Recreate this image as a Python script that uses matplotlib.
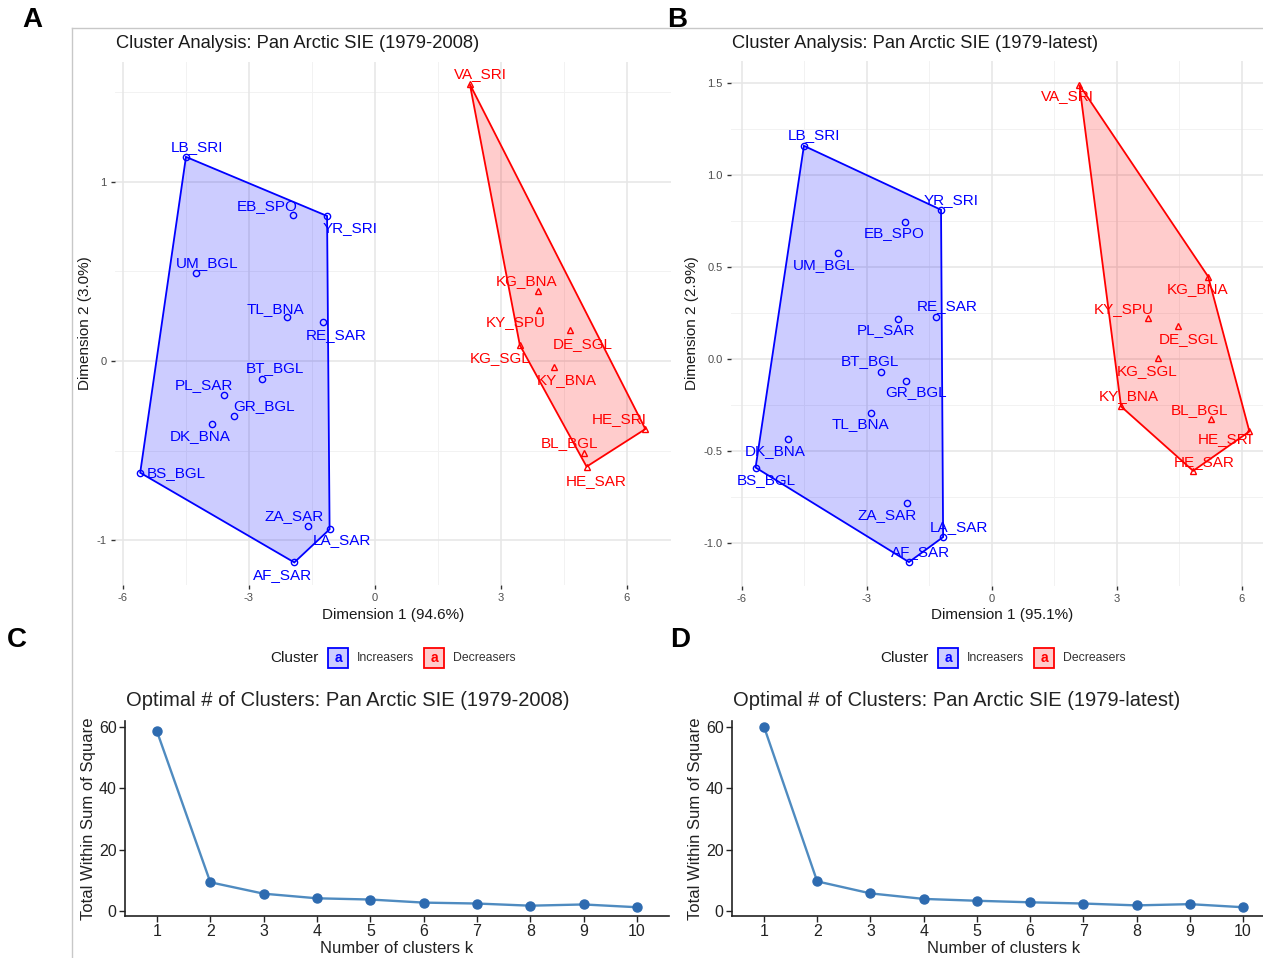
import numpy as np
import matplotlib
matplotlib.use("Agg")
import matplotlib.pyplot as plt
from matplotlib.patches import Polygon, Rectangle
from matplotlib.lines import Line2D

plt.rcParams['font.family'] = ['Liberation Sans', 'DejaVu Sans']

# ---------------- data ----------------
# Panel A (1979-2008)
a_inc_names = ["LB_SRI", "EB_SPO", "YR_SRI", "UM_BGL", "TL_BNA", "RE_SAR", "BT_BGL",
               "PL_SAR", "GR_BGL", "DK_BNA", "BS_BGL", "ZA_SAR", "LA_SAR", "AF_SAR"]
a_inc_x = [-4.50, -1.95, -1.14, -4.26, -2.09, -1.23, -2.69, -3.59, -3.35, -3.88, -5.59, -1.59, -1.08, -1.92]
a_inc_y = [1.14, 0.815, 0.81, 0.49, 0.244, 0.216, -0.10, -0.19, -0.305, -0.352, -0.624, -0.92, -0.94, -1.125]
a_dec_names = ["VA_SRI", "KG_BNA", "KY_SPU", "DE_SGL", "KG_SGL", "KY_BNA", "HE_SRI", "BL_BGL", "HE_SAR"]
a_dec_x = [2.26, 3.89, 3.91, 4.64, 3.45, 4.27, 6.44, 4.98, 5.04]
a_dec_y = [1.546, 0.393, 0.285, 0.173, 0.089, -0.032, -0.38, -0.512, -0.59]

# Panel B (1979-latest)
b_inc_names = ["LB_SRI", "YR_SRI", "EB_SPO", "UM_BGL", "RE_SAR", "PL_SAR", "BT_BGL",
               "GR_BGL", "TL_BNA", "DK_BNA", "BS_BGL", "ZA_SAR", "LA_SAR", "AF_SAR"]
b_inc_x = [-4.51, -1.22, -2.09, -3.70, -1.33, -2.26, -2.66, -2.07, -2.89, -4.90, -5.67, -2.04, -1.17, -1.99]
b_inc_y = [1.158, 0.81, 0.746, 0.574, 0.225, 0.219, -0.069, -0.118, -0.292, -0.437, -0.591, -0.786, -0.969, -1.105]
b_dec_names = ["VA_SRI", "KG_BNA", "KY_SPU", "DE_SGL", "KG_SGL", "KY_BNA", "BL_BGL", "HE_SRI", "HE_SAR"]
b_dec_x = [2.10, 5.19, 3.74, 4.46, 3.99, 3.10, 5.26, 6.18, 4.83]
b_dec_y = [1.489, 0.447, 0.221, 0.176, 0.007, -0.259, -0.326, -0.395, -0.609]

# Elbow plots
k_values = [1, 2, 3, 4, 5, 6, 7, 8, 9, 10]
wss_c = [58.4, 9.4, 5.7, 4.2, 3.8, 2.8, 2.5, 1.8, 2.2, 1.3]
wss_d = [60.0, 9.7, 5.8, 4.0, 3.4, 2.9, 2.5, 1.9, 2.3, 1.3]

# label offsets (pixels; +y up) -- layout only
a_inc_off = [(11, 10), (-26, 9), (23, -12), (11, 10), (-12, 8), (13, -13), (13, 11),
             (-20, 10), (30, 10), (-12, -12), (36, 0), (-14, 10), (12, -11), (-12, -13)]
a_dec_off = [(11, 10), (-12, 10), (-23, -12), (13, -14), (-20, -13), (12, -13), (-26, 10), (-15, 10), (10, -14)]
b_inc_off = [(10, 11), (10, 10), (-11, -11), (-13, -12), (11, 11), (-12, -11), (-11, 10),
             (10, -11), (-11, -11), (-12, -12), (11, -12), (-20, -12), (16, 10), (12, 10)]
b_dec_off = [(-12, -11), (-11, -12), (-24, 9), (11, -13), (-11, -13), (8, 10), (-12, 9), (-24, -8), (11, 9)]

W, H = 1263, 958
fig = plt.figure(figsize=(W / 100, H / 100), dpi=100)

BLUE = "#0000FF"
RED = "#FF0000"
BLUE_FILL = (0, 0, 1, 0.2)
RED_FILL = (1, 0, 0, 0.2)


def ax_px(left, top, right, bottom):
    return fig.add_axes([left / W, 1 - bottom / H, (right - left) / W, (bottom - top) / H])


def hull(xs, ys):
    pts = sorted(set(zip(xs, ys)))

    def cross(o, a, b):
        return (a[0] - o[0]) * (b[1] - o[1]) - (a[1] - o[1]) * (b[0] - o[0])
    lower, upper = [], []
    for p in pts:
        while len(lower) >= 2 and cross(lower[-2], lower[-1], p) <= 0:
            lower.pop()
        lower.append(p)
    for p in reversed(pts):
        while len(upper) >= 2 and cross(upper[-2], upper[-1], p) <= 0:
            upper.pop()
        upper.append(p)
    return lower[:-1] + upper[:-1]


def cluster_panel(ax, groups, xlim, ylim, xticks, yticks, yticklabels, xminor, yminor):
    ax.set_xlim(*xlim)
    ax.set_ylim(*ylim)
    for s in ax.spines.values():
        s.set_visible(False)
    for v in xminor:
        ax.axvline(v, color="#F2F2F2", lw=0.7, zorder=0)
    for v in yminor:
        ax.axhline(v, color="#F2F2F2", lw=0.7, zorder=0)
    for v in xticks:
        ax.axvline(v, color="#E6E6E6", lw=1.1, zorder=0)
    for v in yticks:
        ax.axhline(v, color="#E6E6E6", lw=1.1, zorder=0)
    ax.set_xticks(xticks)
    ax.set_xticklabels([str(t) for t in xticks])
    ax.set_yticks(yticks)
    ax.set_yticklabels(yticklabels)
    ax.tick_params(axis="both", length=3, width=1, color="#333333", labelsize=8,
                   labelcolor="#4D4D4D", pad=3)
    for names, xs, ys, offs, col, fill, mk in groups:
        hp = hull(xs, ys)
        ax.add_patch(Polygon(hp, closed=True, facecolor=fill, edgecolor=col, lw=1.3, zorder=2))
        ax.plot(xs, ys, linestyle="none", marker=mk, markersize=4.5 if mk == "o" else 5,
                markerfacecolor="none", markeredgecolor=col, markeredgewidth=1.0, zorder=3)
        for n, x, y, o in zip(names, xs, ys, offs):
            ax.annotate(n, (x, y), xytext=o, textcoords="offset pixels", ha="center",
                        va="center", color=col, fontsize=11, zorder=4)


# Panel A
axA = ax_px(115, 62, 671, 585)
cluster_panel(axA,
              [(a_inc_names, a_inc_x, a_inc_y, a_inc_off, BLUE, BLUE_FILL, "o"),
               (a_dec_names, a_dec_x, a_dec_y, a_dec_off, RED, RED_FILL, "^")],
              (-6.19, 7.05), (-1.251, 1.670), [-6, -3, 0, 3, 6], [-1, 0, 1], ["-1", "0", "1"],
              [-4.5, -1.5, 1.5, 4.5], [-0.5, 0.5, 1.5])
axA.set_xlabel("Dimension 1 (94.6%)", fontsize=11, color="#1A1A1A", labelpad=3)
axA.set_ylabel("Dimension 2 (3.0%)", fontsize=11, color="#1A1A1A", labelpad=3)

# Panel B
axB = ax_px(731, 61, 1274, 586)
cluster_panel(axB,
              [(b_inc_names, b_inc_x, b_inc_y, b_inc_off, BLUE, BLUE_FILL, "o"),
               (b_dec_names, b_dec_x, b_dec_y, b_dec_off, RED, RED_FILL, "^")],
              (-6.26, 6.77), (-1.235, 1.619), [-6, -3, 0, 3, 6], [-1.0, -0.5, 0.0, 0.5, 1.0, 1.5],
              ["-1.0", "-0.5", "0.0", "0.5", "1.0", "1.5"],
              [-4.5, -1.5, 1.5, 4.5], [-0.75, -0.25, 0.25, 0.75, 1.25])
axB.set_xlabel("Dimension 1 (95.1%)", fontsize=11, color="#1A1A1A", labelpad=3)
axB.set_ylabel("Dimension 2 (2.9%)", fontsize=11, color="#1A1A1A", labelpad=3)

# Titles A/B
fig.text(116 / W, 1 - 43 / H, "Cluster Analysis: Pan Arctic SIE (1979-2008)", fontsize=13.2,
         color="#1A1A1A", va="center", ha="left")
fig.text(732 / W, 1 - 43 / H, "Cluster Analysis: Pan Arctic SIE (1979-latest)", fontsize=13.2,
         color="#1A1A1A", va="center", ha="left")


# Legends
def legend(x0, y0):
    fig.text(x0 / W, 1 - y0 / H, "Cluster", fontsize=11, color="#1A1A1A", va="center", ha="left")
    items = [(x0 + 58, BLUE, BLUE_FILL, "Increasers"), (x0 + 154, RED, RED_FILL, "Decreasers")]
    for bx, col, fill, lab in items:
        fig.patches.append(Rectangle((bx / W, 1 - (y0 + 10) / H), 20 / W, 20 / H, transform=fig.transFigure,
                                     facecolor=fill, edgecolor=col, lw=1.3))
        fig.text((bx + 10) / W, 1 - (y0 + 0.5) / H, "a", fontsize=10, color=col, ha="center", va="center",
                 fontweight="bold")
        fig.text((bx + 29) / W, 1 - y0 / H, lab, fontsize=8.8, color="#333333", va="center", ha="left")


legend(270, 658)
legend(880, 658)


# Elbow panels
def elbow(left, right, wss, title):
    ax = ax_px(left, 721, right, 916)
    ax.plot(k_values, wss, color="#4F8BC0", lw=1.7, marker="o", markersize=6.5,
            markerfacecolor="#2E6BB0", markeredgecolor="#2E6BB0")
    ax.set_xlim(0.4, 10.6)
    ax.set_ylim(-1.55, 61.8)
    ax.set_xticks(k_values)
    ax.set_yticks([0, 20, 40, 60])
    for s in ["top", "right"]:
        ax.spines[s].set_visible(False)
    for s in ["left", "bottom"]:
        ax.spines[s].set_color("#222222")
        ax.spines[s].set_linewidth(1.2)
    ax.tick_params(axis="both", length=4, width=1, color="#222222", labelsize=11.5,
                   labelcolor="#222222", pad=2)
    ax.set_xlabel("Number of clusters k", fontsize=12, color="#222222", labelpad=1)
    ax.set_ylabel("Total Within Sum of Square", fontsize=12, color="#222222", labelpad=2)
    fig.text((left + 1) / W, 1 - 701 / H, title, fontsize=14.5, color="#222222", va="center", ha="left")
    return ax


elbow(125, 669, wss_c, "Optimal # of Clusters: Pan Arctic SIE (1979-2008)")
elbow(732, 1275, wss_d, "Optimal # of Clusters: Pan Arctic SIE (1979-latest)")

# Panel letters
for lab, x, y in [("A", 32, 20), ("B", 677, 20), ("C", 17, 640), ("D", 680, 640)]:
    fig.text(x / W, 1 - y / H, lab, fontsize=20, fontweight="bold", ha="center", va="center", color="black")

# Frame lines
fig.add_artist(Line2D([72 / W, 1.0], [1 - 28 / H, 1 - 28 / H], transform=fig.transFigure, color="#C8C8C8", lw=1))
fig.add_artist(Line2D([72 / W, 72 / W], [0, 1 - 28 / H], transform=fig.transFigure, color="#C8C8C8", lw=1))

fig.savefig("out.png", dpi=100)
